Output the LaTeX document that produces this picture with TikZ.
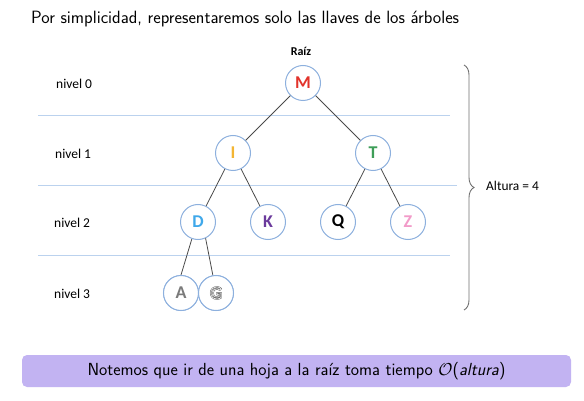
\documentclass[tikz,border=0pt]{standalone}
\usepackage{fontspec}
\usepackage{amsmath}
\usetikzlibrary{decorations.pathreplacing}
\newfontfamily\imgfont{Carlito}
\renewcommand{\familydefault}{\sfdefault}
\definecolor{ringblue}{HTML}{8DB0DE}
\definecolor{lineblue}{HTML}{BBD2EE}
\definecolor{edgegray}{HTML}{4A4A4A}
\definecolor{boxlav}{HTML}{C2B3F2}
\definecolor{cM}{HTML}{E2332B}
\definecolor{cI}{HTML}{F3B533}
\definecolor{cT}{HTML}{3E9E58}
\definecolor{cD}{HTML}{3FA8EA}
\definecolor{cK}{HTML}{6B3A9C}
\definecolor{cZ}{HTML}{F29BC9}
\definecolor{cA}{HTML}{7A7A7A}
\newcommand{\outlineG}{\rlap{\special{pdf:code q 1 Tr 1.5 w 0.35 0.35 0.35 RG}G\special{pdf:code Q}}\special{pdf:code q 1 Tr 0.6 w 1 1 1 RG}G\special{pdf:code Q}}
\begin{document}
\begin{tikzpicture}[x=1pt,y=-1pt,
  keynode/.style={circle,draw=ringblue,line width=1pt,fill=white,minimum size=35pt,inner sep=0pt,font=\imgfont\bfseries\fontsize{18}{18}\selectfont},
  tedge/.style={draw=edgegray,line width=0.8pt},
  levelline/.style={draw=lineblue,line width=0.8pt},
  lvl/.style={anchor=west,inner sep=0pt,font=\imgfont\fontsize{13.5}{15}\selectfont}]
\useasboundingbox (0,0) rectangle (584,401);
\node[anchor=west,inner sep=0pt,font=\sffamily\fontsize{17.8}{19}\selectfont] (title) at (31,19) {Por simplicidad, representaremos solo las llaves de los árboles};
\draw[levelline] (38,115) -- (450,115);
\draw[levelline] (38,185) -- (457,185);
\draw[levelline] (38,255) -- (450,255);
\node[lvl] (l0) at (56,84) {nivel 0};
\node[lvl] (l1) at (55,154) {nivel 1};
\node[lvl] (l2) at (54,223) {nivel 2};
\node[lvl] (l3) at (54,294) {nivel 3};
\node[font=\imgfont\bfseries\fontsize{12}{13}\selectfont] (raiz) at (301,51) {Raíz};
\node[keynode,text=cM] (M) at (303,83) {M};
\node[keynode,text=cI] (I) at (233,153) {I};
\node[keynode,text=cT] (T) at (373,153) {T};
\node[keynode,text=cD] (D) at (198,222) {D};
\node[keynode,text=cK] (K) at (268,222) {K};
\node[keynode,text=black] (Q) at (338,222) {Q};
\node[keynode,text=cZ] (Z) at (408,222) {Z};
\node[keynode,text=cA] (A) at (181,293) {A};
\node[keynode] (G) at (216,293) {\outlineG};
\draw[tedge] (M) -- (I);
\draw[tedge] (M) -- (T);
\draw[tedge] (I) -- (D);
\draw[tedge] (I) -- (K);
\draw[tedge] (T) -- (Q);
\draw[tedge] (T) -- (Z);
\draw[tedge] (D.250) -- (A.90);
\draw[tedge] (D.295) -- (G.100);
\node[keynode,text=cA] at (A) {A};
\node[keynode] at (G) {\outlineG};
\coordinate (bt) at (464,65);
\coordinate (bb) at (464,310);
\draw[draw=edgegray!80,line width=0.9pt,decorate,decoration={brace,amplitude=10pt}] (bt) -- (bb);
\node[anchor=west,inner sep=0pt,font=\imgfont\fontsize{13.4}{15}\selectfont] (alt) at (486,186) {Altura = 4};
\node[fill=boxlav,rounded corners=5pt,minimum width=549pt,minimum height=32pt,font=\sffamily\fontsize{17.5}{19}\selectfont] (note) at (296.5,371) {Notemos que ir de una hoja a la raíz toma tiempo $\mathcal{O}$(\textit{altura})};
\end{tikzpicture}
\end{document}
